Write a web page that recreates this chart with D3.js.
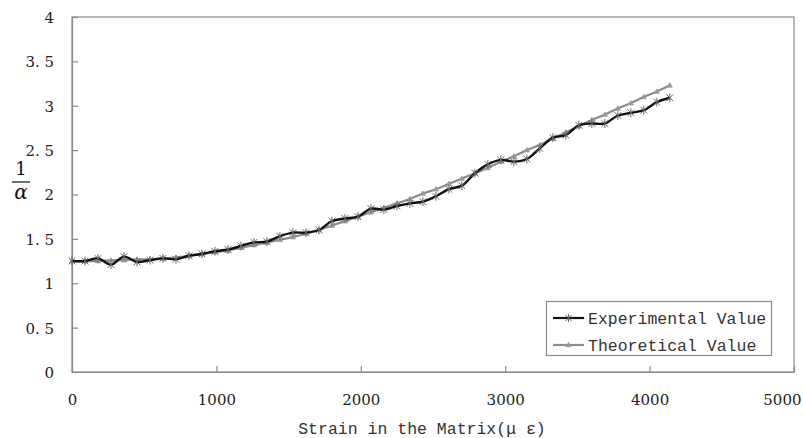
<!DOCTYPE html>
<html>
<head>
<meta charset="utf-8">
<script src="https://cdn.jsdelivr.net/npm/d3@7"></script>
<style>
  html, body { margin: 0; padding: 0; background: #fff; }
  svg { display: block; }
  .serif { font-family: "DejaVu Serif", "Liberation Serif", serif; }
  .mono { font-family: "Liberation Mono", "DejaVu Sans Mono", monospace; }
</style>
</head>
<body>
<svg id="chart" width="803" height="438"></svg>
<script>
// Strain in the matrix (μ ε)
const strain = [0, 90, 180, 270, 360, 450, 540, 630, 720, 810, 900, 990, 1080, 1170, 1260, 1350,
  1440, 1530, 1620, 1710, 1800, 1890, 1980, 2070, 2160, 2250, 2340, 2430, 2520, 2610, 2700,
  2790, 2880, 2970, 3060, 3150, 3240, 3330, 3420, 3510, 3600, 3690, 3780, 3870, 3960, 4050, 4140];

// 1/α, measured
const experimental = [1.25, 1.25, 1.28, 1.21, 1.30, 1.24, 1.26, 1.28, 1.27, 1.31, 1.33, 1.36, 1.38,
  1.42, 1.46, 1.47, 1.53, 1.57, 1.57, 1.60, 1.70, 1.73, 1.75, 1.84, 1.83, 1.87, 1.90, 1.92, 1.98,
  2.06, 2.10, 2.24, 2.34, 2.39, 2.37, 2.40, 2.52, 2.64, 2.67, 2.78, 2.80, 2.80, 2.89, 2.92, 2.95,
  3.04, 3.09];

// 1/α, predicted
const theoretical = [1.25, 1.25, 1.25, 1.26, 1.26, 1.27, 1.27, 1.28, 1.29, 1.31, 1.33, 1.35, 1.37,
  1.40, 1.43, 1.46, 1.49, 1.52, 1.56, 1.60, 1.65, 1.70, 1.75, 1.80, 1.85, 1.90, 1.95, 2.01, 2.06,
  2.12, 2.18, 2.24, 2.30, 2.37, 2.43, 2.50, 2.56, 2.63, 2.70, 2.77, 2.84, 2.90, 2.97, 3.03, 3.10,
  3.16, 3.23];

const xTicks = [0, 1000, 2000, 3000, 4000, 5000];
const yTicks = [0, 0.5, 1, 1.5, 2, 2.5, 3, 3.5, 4];
const yTickLabels = ["0", "0. 5", "1", "1. 5", "2", "2. 5", "3", "3. 5", "4"];
const seriesNames = ["Experimental Value", "Theoretical Value"];
const xTitle = "Strain in the Matrix(\u03bc \u03b5)";

(function drawChart() {
  const svg = d3.select("#chart");
  const plotLeft = 72, plotRight = 794, plotTop = 17, plotBottom = 372;
  const x = d3.scaleLinear().domain([0, 5000]).range([plotLeft, plotRight]);
  const y = d3.scaleLinear().domain([0, 4]).range([plotBottom, plotTop]);

  const frameColor = "#8a8a8a";

  // plot frame
  svg.append("rect")
    .attr("x", plotLeft).attr("y", plotTop)
    .attr("width", plotRight - plotLeft).attr("height", plotBottom - plotTop)
    .attr("fill", "none").attr("stroke", frameColor).attr("stroke-width", 1.2);

  // y axis (ticks pointing inward)
  const yAxis = d3.axisRight(y).tickValues(yTicks).tickSize(6).tickSizeOuter(0)
    .tickFormat((d, i) => yTickLabels[i]);
  const gy = svg.append("g").attr("transform", `translate(${plotLeft},0)`).call(yAxis)
    .attr("font-family", null).attr("font-size", null);
  gy.select(".domain").attr("stroke", frameColor).attr("stroke-width", 1.2);
  gy.selectAll(".tick line").attr("stroke", frameColor).attr("stroke-width", 1.2);
  gy.selectAll(".tick text")
    .attr("class", "serif")
    .attr("x", -18).attr("dy", "0.36em").attr("text-anchor", "end")
    .attr("font-size", 15).attr("fill", "#222");

  // x axis (ticks pointing inward)
  const xAxis = d3.axisTop(x).tickValues(xTicks).tickSize(6).tickSizeOuter(0)
    .tickFormat(d3.format("d"));
  const gx = svg.append("g").attr("transform", `translate(0,${plotBottom})`).call(xAxis)
    .attr("font-family", null).attr("font-size", null);
  gx.select(".domain").attr("stroke", frameColor).attr("stroke-width", 1.2);
  gx.selectAll(".tick line").attr("stroke", frameColor).attr("stroke-width", 1.2);
  gx.selectAll(".tick text")
    .attr("class", "serif")
    .attr("y", 28).attr("dy", "0.36em")
    .attr("text-anchor", d => d === xTicks[xTicks.length - 1] ? "end" : "middle")
    .attr("x", d => d === xTicks[xTicks.length - 1] ? 801 - x(d) : 0)
    .attr("font-size", 15).attr("fill", "#222");

  // axis titles
  svg.append("text").attr("class", "mono")
    .attr("x", 422).attr("y", 428).attr("dy", "0.36em")
    .attr("text-anchor", "middle")
    .attr("font-size", 16.5).attr("fill", "#333")
    .text(xTitle);

  const yTitle = svg.append("g").attr("transform", "translate(21,182)");
  yTitle.append("text").attr("class", "serif").attr("x", 0).attr("y", -7)
    .attr("text-anchor", "middle").attr("font-size", 18).attr("fill", "#111")
    .text("1");
  yTitle.append("line").attr("x1", -9).attr("x2", 9).attr("y1", 0).attr("y2", 0)
    .attr("stroke", "#111").attr("stroke-width", 1.2);
  yTitle.append("text").attr("class", "serif").attr("x", 0).attr("y", 17)
    .attr("text-anchor", "middle").attr("font-style", "italic")
    .attr("font-size", 20).attr("fill", "#111")
    .text("\u03b1");

  // series
  const rows = strain.map((s, i) => ({ s, e: experimental[i], t: theoretical[i] }));
  const lineOf = key => d3.line().x(d => x(d.s)).y(d => y(d[key])).curve(d3.curveCatmullRom.alpha(0.5));

  const starPath = (cx, cy, r) =>
    `M${cx - r},${cy - r}L${cx + r},${cy + r}M${cx - r},${cy + r}L${cx + r},${cy - r}` +
    `M${cx},${cy - r - 1}L${cx},${cy + r + 1}`;
  const triPath = (cx, cy, r) =>
    `M${cx},${cy - r}L${cx + r},${cy + r * 0.7}L${cx - r},${cy + r * 0.7}Z`;

  // theoretical first so the measured curve sits on top
  svg.append("path").datum(rows)
    .attr("d", lineOf("t")).attr("fill", "none")
    .attr("stroke", "#8c8c8c").attr("stroke-width", 2.2);
  svg.append("g").selectAll("path").data(rows).join("path")
    .attr("d", d => triPath(x(d.s), y(d.t), 2.6))
    .attr("fill", "#9a9a9a").attr("stroke", "#9a9a9a").attr("stroke-width", 0.8);

  svg.append("path").datum(rows)
    .attr("d", lineOf("e")).attr("fill", "none")
    .attr("stroke", "#111").attr("stroke-width", 2.4);
  svg.append("g").selectAll("path").data(rows).join("path")
    .attr("d", d => starPath(x(d.s), y(d.e), 3.4))
    .attr("fill", "none").attr("stroke", "#666").attr("stroke-width", 1);

  // legend
  const lg = svg.append("g");
  lg.append("rect").attr("x", 546.5).attr("y", 301.5).attr("width", 225).attr("height", 54)
    .attr("fill", "#fff").attr("stroke", frameColor).attr("stroke-width", 1.2);
  const legendRows = [
    { name: seriesNames[0], stroke: "#111", marker: (cx, cy) => starPath(cx, cy, 3), mfill: "none", mstroke: "#666" },
    { name: seriesNames[1], stroke: "#8c8c8c", marker: (cx, cy) => triPath(cx, cy, 2.4), mfill: "#9a9a9a", mstroke: "#9a9a9a" }
  ];
  legendRows.forEach((r, i) => {
    const cy = 318 + i * 27;
    lg.append("line").attr("x1", 553).attr("x2", 584).attr("y1", cy).attr("y2", cy)
      .attr("stroke", r.stroke).attr("stroke-width", 2.2);
    lg.append("path").attr("d", r.marker(568.5, cy))
      .attr("fill", r.mfill).attr("stroke", r.mstroke).attr("stroke-width", 1);
    lg.append("text").attr("class", "mono").attr("x", 588).attr("y", cy).attr("dy", "0.36em")
      .attr("font-size", 16.5).attr("fill", "#333")
      .text(r.name);
  });
})();
</script>
</body>
</html>
